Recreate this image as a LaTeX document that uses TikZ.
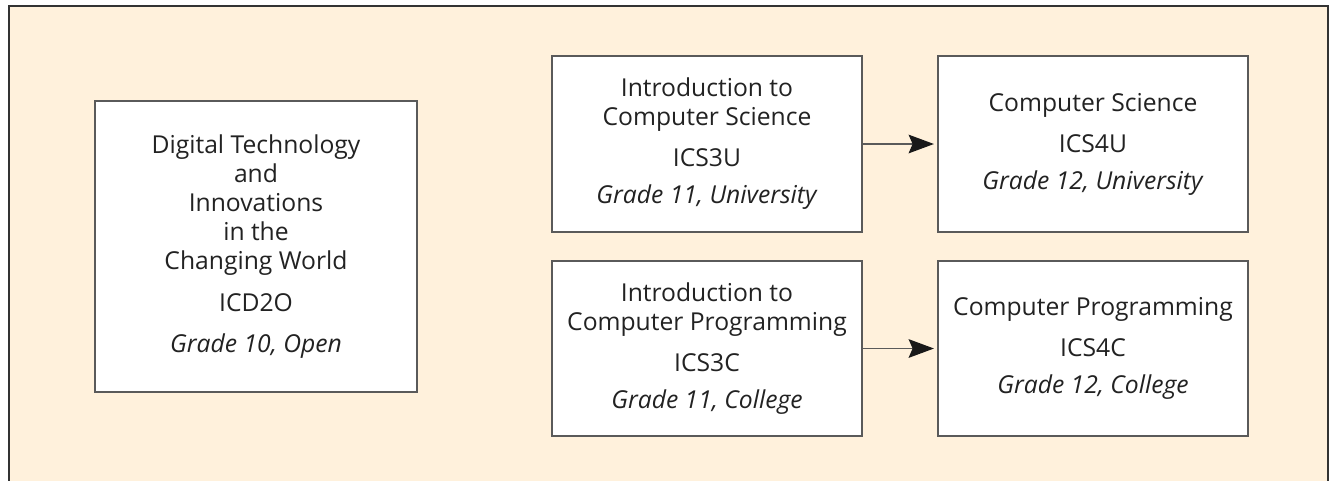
\documentclass[tikz,border=0pt]{standalone}
\usepackage{fontspec}
\setmainfont{Open Sans}
\usetikzlibrary{arrows.meta}
\definecolor{cream}{HTML}{FFF1DC}
\definecolor{framec}{HTML}{333333}
\definecolor{boxc}{HTML}{5A5A5A}
\definecolor{txt}{HTML}{222222}
\tikzset{
  course/.style={draw=boxc, line width=1.1pt, fill=white, inner sep=0pt,
    align=center, text=txt, font=\fontsize{18.5}{21.75}\selectfont},
  conn/.style={draw=boxc, line width=1pt,
    -{Stealth[length=19pt,width=14pt,inset=3pt,color=black!90]},
    shorten >=2.5pt}
}
\begin{document}
\begin{tikzpicture}[x=0.75pt,y=-0.75pt]
\useasboundingbox (0,0) rectangle (1332,480);
\clip (0,0) rectangle (1332,480);
\fill[white] (0,0) rectangle (1332,480);
\draw[framec, line width=1.6pt, fill=cream] (9,6) rectangle (1328,520);
\node[course, minimum width=241.5pt, minimum height=218.25pt] (icd) at (256,246.5)
  {Digital Technology\\and\\Innovations\\in the\\Changing World\\[9.5pt]ICD2O\\[9pt]\textit{Grade 10, Open}};
\node[course, minimum width=232.5pt, minimum height=132pt] (ics3u) at (707,144)
  {Introduction to\\Computer Science\\[9pt]ICS3U\\[6pt]\textit{Grade 11, University}};
\node[course, minimum width=232.5pt, minimum height=132pt] (ics4u) at (1093,144)
  {Computer Science\\[9pt]ICS4U\\[6pt]\textit{Grade 12, University}};
\node[course, minimum width=232.5pt, minimum height=131.25pt] (ics3c) at (707,348.5)
  {Introduction to\\Computer Programming\\[9pt]ICS3C\\[6pt]\textit{Grade 11, College}};
\node[course, minimum width=232.5pt, minimum height=131.25pt] (ics4c) at (1093,348.5)
  {Computer Programming\\[9pt]ICS4C\\[6pt]\textit{Grade 12, College}};
\draw[conn] (ics3u.east) -- (ics4u.west);
\draw[conn] (ics3c.east) -- (ics4c.west);
\end{tikzpicture}
\end{document}
